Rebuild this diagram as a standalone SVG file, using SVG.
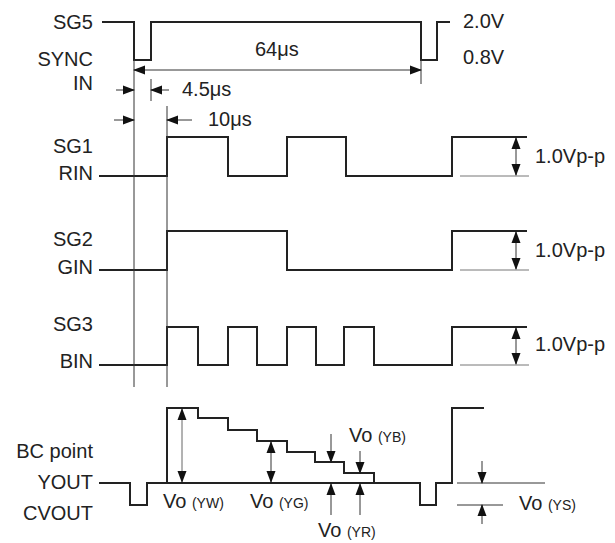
<svg xmlns="http://www.w3.org/2000/svg" width="615" height="543" viewBox="0 0 615 543">
<style>
text{font-family:"Liberation Sans",Arial,sans-serif;font-size:20px;fill:#222}
.lbl{text-anchor:end}
.sm{font-size:14px}
.sig{fill:none;stroke:#222;stroke-width:2;stroke-linejoin:miter}
.thin{fill:none;stroke:#333;stroke-width:1}
.gray{fill:none;stroke:#777;stroke-width:1}
.dim{fill:none;stroke:#333;stroke-width:1;marker-end:url(#ah)}
.dim2{fill:none;stroke:#333;stroke-width:1;marker-start:url(#ah);marker-end:url(#ah)}
</style>
<defs>
<marker id="ah" markerUnits="userSpaceOnUse" markerWidth="12" markerHeight="10" refX="11" refY="4.5" orient="auto-start-reverse" viewBox="0 0 12 9">
<path d="M0,0 L12,4.5 L0,9 z" fill="#111"/>
</marker>
</defs>
<g id="labels">
<text class="lbl" x="93" y="29">SG5</text>
<text class="lbl" x="93" y="66">SYNC</text>
<text class="lbl" x="93" y="90">IN</text>
<text class="lbl" x="93" y="153">SG1</text>
<text class="lbl" x="93" y="180">RIN</text>
<text class="lbl" x="93" y="246">SG2</text>
<text class="lbl" x="93" y="274">GIN</text>
<text class="lbl" x="93" y="331">SG3</text>
<text class="lbl" x="93" y="368">BIN</text>
<text class="lbl" x="93" y="458">BC point</text>
<text class="lbl" x="93" y="489">YOUT</text>
<text class="lbl" x="93" y="520">CVOUT</text>
</g>
<g id="sg5">
<path class="sig" d="M102,22 H134 V60 H151 V22 H421 V60 H437 V22 H450"/>
<text x="463" y="28">2.0V</text>
<text x="463" y="64">0.8V</text>
</g>
<g id="sg1">
<path class="sig" d="M99,176 H167 V137 H228 V176 H287 V137 H346 V176 H452 V137 H527"/>
<line class="gray" x1="460" y1="176" x2="529" y2="176"/>
<line class="dim2" x1="516" y1="138" x2="516" y2="175"/>
<text x="535" y="163">1.0Vp-p</text>
</g>
<g id="sg2">
<path class="sig" d="M99,270 H167 V231 H287 V270 H452 V231 H527"/>
<line class="gray" x1="460" y1="270" x2="529" y2="270"/>
<line class="dim2" x1="516" y1="232" x2="516" y2="269"/>
<text x="535" y="257">1.0Vp-p</text>
</g>
<g id="sg3">
<path class="sig" d="M99,365 H167 V327 H198 V365 H228 V327 H257 V365 H287 V327 H316 V365 H344 V327 H374 V365 H452 V327 H527"/>
<line class="gray" x1="460" y1="365" x2="529" y2="365"/>
<line class="dim2" x1="516" y1="328" x2="516" y2="364"/>
<text x="535" y="351">1.0Vp-p</text>
</g>
<g id="yout">
<path class="sig" d="M99,483 H130 V505 H147 V483 H420 V505 H436 V483 H452 V408 H484"/>
<path class="sig" d="M167,483 V408 H198 V418 H228 V430 H257 V441 H287 V452 H315 V462 H344 V473 H374 V483"/>
</g>
<g id="connectors">
<line class="thin" x1="134" y1="60" x2="134" y2="387"/>
<line class="thin" x1="167" y1="106" x2="167" y2="387"/>
<line class="thin" x1="151" y1="79" x2="151" y2="101"/>
<line class="thin" x1="421" y1="60" x2="421" y2="84"/>
<line class="dim2" x1="134" y1="70" x2="421" y2="70"/>
<line class="dim" x1="116" y1="90" x2="134" y2="90"/>
<line class="dim" x1="169" y1="90" x2="151" y2="90"/>
<line class="dim" x1="114" y1="120" x2="134" y2="120"/>
<line class="dim" x1="192" y1="120" x2="167" y2="120"/>
<line class="dim2" x1="182" y1="409" x2="182" y2="482" style="stroke:#666"/>
<line class="dim2" x1="271" y1="442" x2="271" y2="482"/>
<line class="dim" x1="331" y1="434" x2="331" y2="462"/>
<line class="dim" x1="360" y1="451" x2="360" y2="473"/>
<line class="dim" x1="331" y1="515" x2="331" y2="484"/>
<line class="dim" x1="360" y1="515" x2="360" y2="484"/>
<line class="thin" x1="457" y1="483" x2="545" y2="483"/>
<line class="thin" x1="457" y1="505" x2="503" y2="505"/>
<line class="dim" x1="482" y1="461" x2="482" y2="483"/>
<line class="dim" x1="482" y1="524" x2="482" y2="505"/>
</g>
<g id="dim-labels">
<text x="255" y="56">64μs</text>
<text x="182" y="96">4.5μs</text>
<text x="208" y="126">10μs</text>
<text x="163" y="508">Vo <tspan class="sm">(YW)</tspan></text>
<text x="250" y="508">Vo <tspan class="sm">(YG)</tspan></text>
<text x="349" y="442">Vo <tspan class="sm">(YB)</tspan></text>
<text x="318" y="537">Vo <tspan class="sm">(YR)</tspan></text>
<text x="519" y="510">Vo <tspan class="sm">(YS)</tspan></text>
</g>
</svg>
